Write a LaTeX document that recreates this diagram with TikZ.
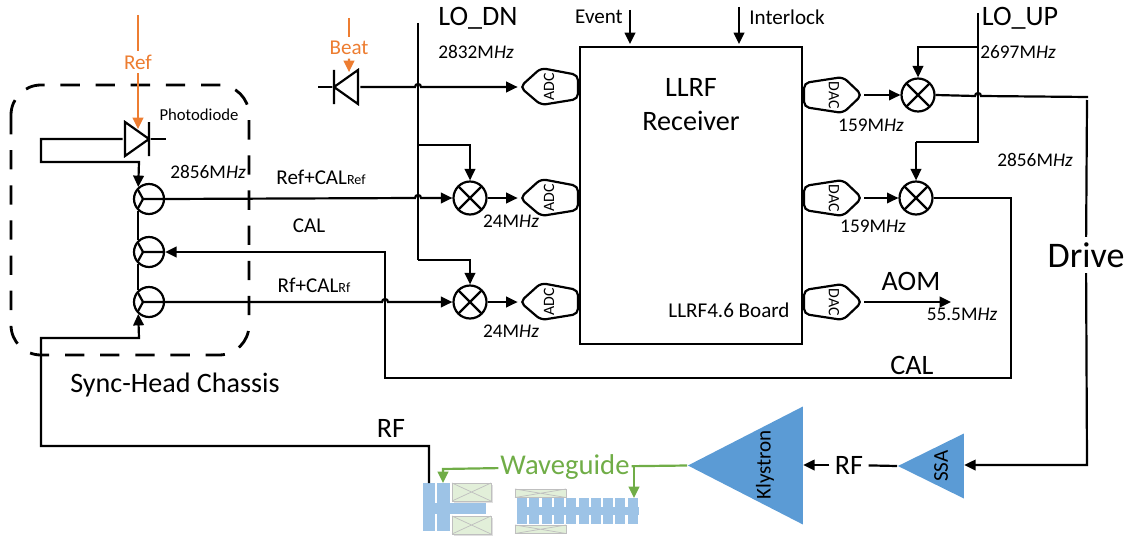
\documentclass[tikz,border=0pt]{standalone}
\usepackage{fontspec}
\usepackage{xcolor}
\setmainfont{Carlito}
\usetikzlibrary{shapes.geometric,arrows.meta}
\definecolor{beamorange}{HTML}{ED7D31}
\definecolor{wgreen}{HTML}{70AD47}
\definecolor{ampblue}{HTML}{5B9BD5}
\definecolor{cavblue}{HTML}{9DC3E6}
\definecolor{coilgreen}{HTML}{E2EFD9}
\newcommand{\bbpt}[2]{([xshift=#1*0.02cm,yshift=#2*0.02cm]path picture bounding box.center)}
\newcommand{\fs}[1]{\fontsize{#1}{#1}\selectfont}
\newcommand{\mhz}{M\textit{Hz}}
\tikzset{
  >={Stealth[inset=0pt,length=6.5pt,width=6pt]},
  wire/.style={line width=1.25pt},
  arr/.style={wire,->},
  lbl/.style={inner sep=0pt,font=\fs{11}},
  midlbl/.style={inner sep=0pt,font=\fs{12}},
  biglbl/.style={inner sep=0pt,font=\fs{16}},
  mixer/.style={circle,draw,line width=1.25pt,minimum size=0.66cm,inner sep=0pt,
    path picture={\draw[line width=1.25pt] (path picture bounding box.north west) -- (path picture bounding box.south east)
      (path picture bounding box.north east) -- (path picture bounding box.south west);}},
  splitter/.style={circle,draw,line width=1.25pt,minimum size=0.6cm,inner sep=0pt,
    path picture={\draw[line width=1.25pt] \bbpt{-6}{0} -- \bbpt{15}{0} \bbpt{-6}{0} -- \bbpt{-12}{11} \bbpt{-6}{0} -- \bbpt{-12}{-11};}},
  adc/.style={minimum width=1.24cm,minimum height=0.84cm,inner sep=0pt,font=\fs{9},
    path picture={\draw[line width=1.25pt,rounded corners=3pt] \bbpt{-29}{0} -- \bbpt{-8}{19} -- \bbpt{29}{12} -- \bbpt{29}{-12} -- \bbpt{-8}{-18} -- cycle;}},
  dac/.style={minimum width=1.24cm,minimum height=0.84cm,inner sep=0pt,font=\fs{9},
    path picture={\draw[line width=1.25pt,rounded corners=3pt] \bbpt{29}{0} -- \bbpt{10}{18} -- \bbpt{-29}{12} -- \bbpt{-29}{-12} -- \bbpt{10}{-18} -- cycle;}},
  coil/.style={draw=black!25,fill=coilgreen,line width=0.4pt},
}
\begin{document}
\begin{tikzpicture}[x=0.02cm,y=-0.02cm]
\useasboundingbox (0,0) rectangle (1131,537);

% chassis
\draw[line width=1.6pt,dash pattern=on 11pt off 9pt,rounded corners=0.6cm] (11,85) rectangle (249,355);
\node[biglbl] at (175,385) (chassis) {Sync-Head Chassis};

% receiver board
\node[draw,line width=1.6pt,minimum width=4.44cm,minimum height=5.94cm,inner sep=0pt] at (691,195.5) (board) {};
\node[inner sep=0pt,font=\fs{16}] at (691,87) (llrf) {LLRF};
\node[inner sep=0pt,font=\fs{16}] at (691,121) (receiver) {Receiver};
\node[midlbl] at (729,310) (boardname) {LLRF4.6 Board};

% photodiodes
\node[minimum width=0.56cm,minimum height=0.74cm,inner sep=0pt,
  path picture={\draw[line width=1.25pt] \bbpt{-12}{17} -- \bbpt{-12}{-17} -- \bbpt{12}{0} -- cycle \bbpt{12}{17} -- \bbpt{12}{-17};}]
  at (137,139) (pdRef) {};
\node[minimum width=0.56cm,minimum height=0.74cm,inner sep=0pt,
  path picture={\draw[line width=1.25pt] \bbpt{12}{17} -- \bbpt{12}{-17} -- \bbpt{-12}{0} -- cycle \bbpt{-12}{17} -- \bbpt{-12}{-17};}]
  at (346,87) (pdBeat) {};
\node[lbl,font=\fs{9.5}] at (199,115) (pdname) {Photodiode};
\node[text=beamorange,inner sep=2pt,font=\fs{12}] at (138,62) (ref) {Ref};
\node[text=beamorange,inner sep=2pt,font=\fs{12}] at (349,48) (beat) {Beat};

% splitters
\node[splitter] at (149,199) (splitA) {};
\node[splitter] at (149,252) (splitB) {};
\node[splitter] at (149,302) (splitC) {};

% mixers
\node[mixer] at (470,198) (mixA) {};
\node[mixer] at (470,302) (mixB) {};
\node[mixer] at (918,95) (mixC) {};
\node[mixer] at (916,198) (mixD) {};

% converters
\node[adc] at (549,87) (adcA) {\rotatebox{90}{ADC}};
\node[adc] at (549,198) (adcB) {\rotatebox{90}{ADC}};
\node[adc] at (549,302) (adcC) {\rotatebox{90}{ADC}};
\node[dac] at (833,95) (dacA) {\hspace{1pt}\rotatebox{-90}{DAC}};
\node[dac] at (833,198) (dacB) {\hspace{1pt}\rotatebox{-90}{DAC}};
\node[dac] at (833,302) (dacC) {\hspace{1pt}\rotatebox{-90}{DAC}};

% labels
\node[biglbl] at (478,18) (lodn) {LO\_DN};
\node[biglbl] at (1020,18) (loup) {LO\_UP};
\node[lbl] at (476,52) (fdn) {2832\mhz};
\node[lbl] at (1018,52) (fup) {2697\mhz};
\node[lbl] at (208,172) (fref) {2856\mhz};
\node[lbl] at (1035,160) (fdrive) {2856\mhz};
\node[lbl] at (511,221) (ifA) {24\mhz};
\node[lbl] at (511,331) (ifB) {24\mhz};
\node[lbl] at (871,125) (ifC) {159\mhz};
\node[lbl] at (873,226) (ifD) {159\mhz};
\node[lbl] at (962,314) (faom) {55.5\mhz};
\node[biglbl] at (911,281) (aom) {AOM};
\node[biglbl] at (912,365) (calB) {CAL};
\node[midlbl] at (321,177) (refcal) {Ref+CAL{\fs{8}Ref}};
\node[midlbl] at (309,226) (calA) {CAL};
\node[midlbl] at (314,285) (rfcal) {Rf+CAL{\fs{8}Rf}};
\node[midlbl] at (599,17) (event) {Event};
\node[midlbl] at (787,17) (interlock) {Interlock};
\node[inner sep=3pt,font=\fs{20.5}] at (1086,255) (drive) {Drive};
\node[biglbl] at (391,428) (rfA) {RF};
\node[inner sep=3pt,font=\fs{16}] at (849,465) (rfB) {RF};

% amplifiers
\node[isosceles triangle,isosceles triangle stretches,shape border rotate=180,fill=ampblue,
  minimum width=2.36cm,minimum height=2.3cm,inner sep=0pt,anchor=apex] at (687,465.5) (klystron) {};
\node[isosceles triangle,isosceles triangle stretches,shape border rotate=180,fill=ampblue,
  minimum width=1.3cm,minimum height=1.32cm,inner sep=0pt,anchor=apex] at (897,466) (ssa) {};
\node[inner sep=0pt,rotate=90,font=\fs{12}] at (765,465) (klylbl) {Klystron};
\node[inner sep=0pt,rotate=90,font=\fs{12}] at (941,466) (ssalbl) {SSA};

% cavities
\fill[cavblue] (423,483) rectangle (435,531);
\fill[cavblue] (437,483) rectangle (450,531);
\fill[cavblue] (435,503) rectangle (486,514);
\foreach \i in {0,...,9} {
  \fill[cavblue] (517+\i*12.3,498) rectangle ++(10,26);
}
\fill[cavblue] (517,507) rectangle (639,515);
\foreach \cx/\cy in {452/483,452/516} {
  \fill[black!12] (\cx+2,\cy+2) rectangle ++(39,18);
  \draw[coil] (\cx,\cy) rectangle ++(39,18);
  \draw[black!25,line width=0.4pt] (\cx,\cy) -- ++(39,18) (\cx,\cy+18) -- ++(39,-18);
}
\foreach \cx/\cy in {515/489,515/525} {
  \draw[coil] (\cx,\cy) rectangle ++(51,8.5);
  \draw[black!25,line width=0.4pt] (\cx,\cy) -- ++(51,8.5) (\cx,\cy+8.5) -- ++(51,-8.5);
}
\node[text=wgreen,inner sep=1pt,font=\fs{16.3}] at (565,467) (waveguide) {Waveguide};
\coordinate (cavA) at (443,483);
\coordinate (wgA) at (443,469);
\coordinate (cavB) at (634,498);
\coordinate (wgB) at (634,466);

% corners and free ends
\coordinate (reftop) at (138,15);
\coordinate (beattop) at (349,18);
\coordinate (pdEnd) at (166,139);
\coordinate (beatEnd) at (318,87);
\coordinate (loop1) at (41,139);
\coordinate (loop2) at (41,162);
\coordinate (loop3) at (139,162);
\coordinate (rf1) at (429,483);
\coordinate (rf2) at (429,446);
\coordinate (rf3) at (41,446);
\coordinate (rf4) at (41,338);
\coordinate (rf5) at (139,338);
\coordinate (dn0) at (418,23);
\coordinate (dn1) at (418,145);
\coordinate (dn2) at (418,260);
\coordinate (dn3) at (470,145);
\coordinate (dn4) at (470,260);
\coordinate (up0) at (978,13);
\coordinate (up1) at (978,47);
\coordinate (up2) at (918,47);
\coordinate (up3) at (978,142);
\coordinate (up4) at (916,142);
\coordinate (cal1) at (1011,198);
\coordinate (cal2) at (1011,378);
\coordinate (cal3) at (385,378);
\coordinate (cal4) at (385,252);
\coordinate (dr1) at (1088,97);
\coordinate (dr2) at (1087,100);
\coordinate (dr3) at (1087,465);
\coordinate (hopA) at (415,87);
\coordinate (hopB) at (415,198);
\coordinate (hopC) at (382,302);
\coordinate (hopD) at (975,96);
\coordinate (aomEnd) at (951,302);
\coordinate (eventTop) at (630,10);
\coordinate (lockTop) at (739,7);
\coordinate (eventIn) at (630,44);
\coordinate (lockIn) at (739,44);

% orange inputs
\draw[line width=1.25pt,beamorange] (reftop) -- (ref);
\draw[line width=1.25pt,beamorange,->] (ref) -- ([xshift=0.02cm,yshift=-0.18cm]pdRef.north);
\draw[line width=1.25pt,beamorange] (beattop) -- (beat);
\draw[line width=1.25pt,beamorange,->] (beat) -- ([xshift=0.06cm,yshift=-0.08cm]pdBeat.north);

% photodiode wires
\draw[wire] (pdRef.east) -- (pdEnd);
\draw[arr] (pdRef.west) -- (loop1) -- (loop2) -- (loop3) -- (splitA.132);
\draw[wire] (splitA.228) -- (splitB.132);
\draw[wire] (splitB.228) -- (splitC.132);
\draw[arr] (rf1) -- (rf2) -- (rf3) -- (rf4) -- (rf5) -- (splitC.228);
\draw[wire] (pdBeat.west) -- (beatEnd);
\draw[arr] (pdBeat.east) -- (hopA) arc[start angle=180,end angle=0,radius=0.06cm] -- (adcA.west);

% signal paths
\draw[arr] (splitA.east) -- (hopB) arc[start angle=180,end angle=0,radius=0.06cm] -- (mixA.west |- hopB);
\draw[arr] (splitC.east) -- (hopC) arc[start angle=180,end angle=0,radius=0.06cm] -- (mixB.west);
\draw[arr] (mixD.east) -- (cal1) -- (cal2) -- (cal3) -- (cal4) -- (splitB.east);
\draw[arr] (mixA.east) -- (adcB.west);
\draw[arr] (mixB.east) -- (adcC.west);
\draw[wire] (dn0) -- (dn2);
\draw[arr] (dn1) -- (dn3) -- (mixA.north);
\draw[arr] (dn2) -- (dn4) -- (mixB.north);

% up conversion
\draw[wire] (up0) -- (up3) -- (up4);
\draw[arr] (up1) -- (up2) -- (mixC.north);
\draw[arr] (up4) -- (mixD.north);
\draw[arr] (dacA.east) -- (mixC.west);
\draw[arr] (dacB.east) -- (mixD.west);
\draw[arr] (dacC.east) -- (aomEnd);
\draw[wire] (mixC.east) -- (hopD) arc[start angle=180,end angle=0,radius=0.06cm] -- (dr1);
\draw[wire] (dr2) -- (drive);
\draw[arr] (drive) -- (dr3) -- (ssa.east |- dr3);
\draw[arr] (eventTop) -- (eventIn);
\draw[arr] (lockTop) -- (lockIn);

% rf drive
\draw[wire] (ssa.apex) -- (rfB);
\draw[arr] (rfB) -- (klystron.east |- rfB);

% waveguide
\draw[line width=1.25pt,wgreen] (klystron.apex) -- (waveguide);
\draw[line width=1.25pt,wgreen,->] (wgB) -- (cavB);
\draw[line width=1.25pt,wgreen,->] (waveguide) -- (wgA) -- (cavA);
\end{tikzpicture}
\end{document}
